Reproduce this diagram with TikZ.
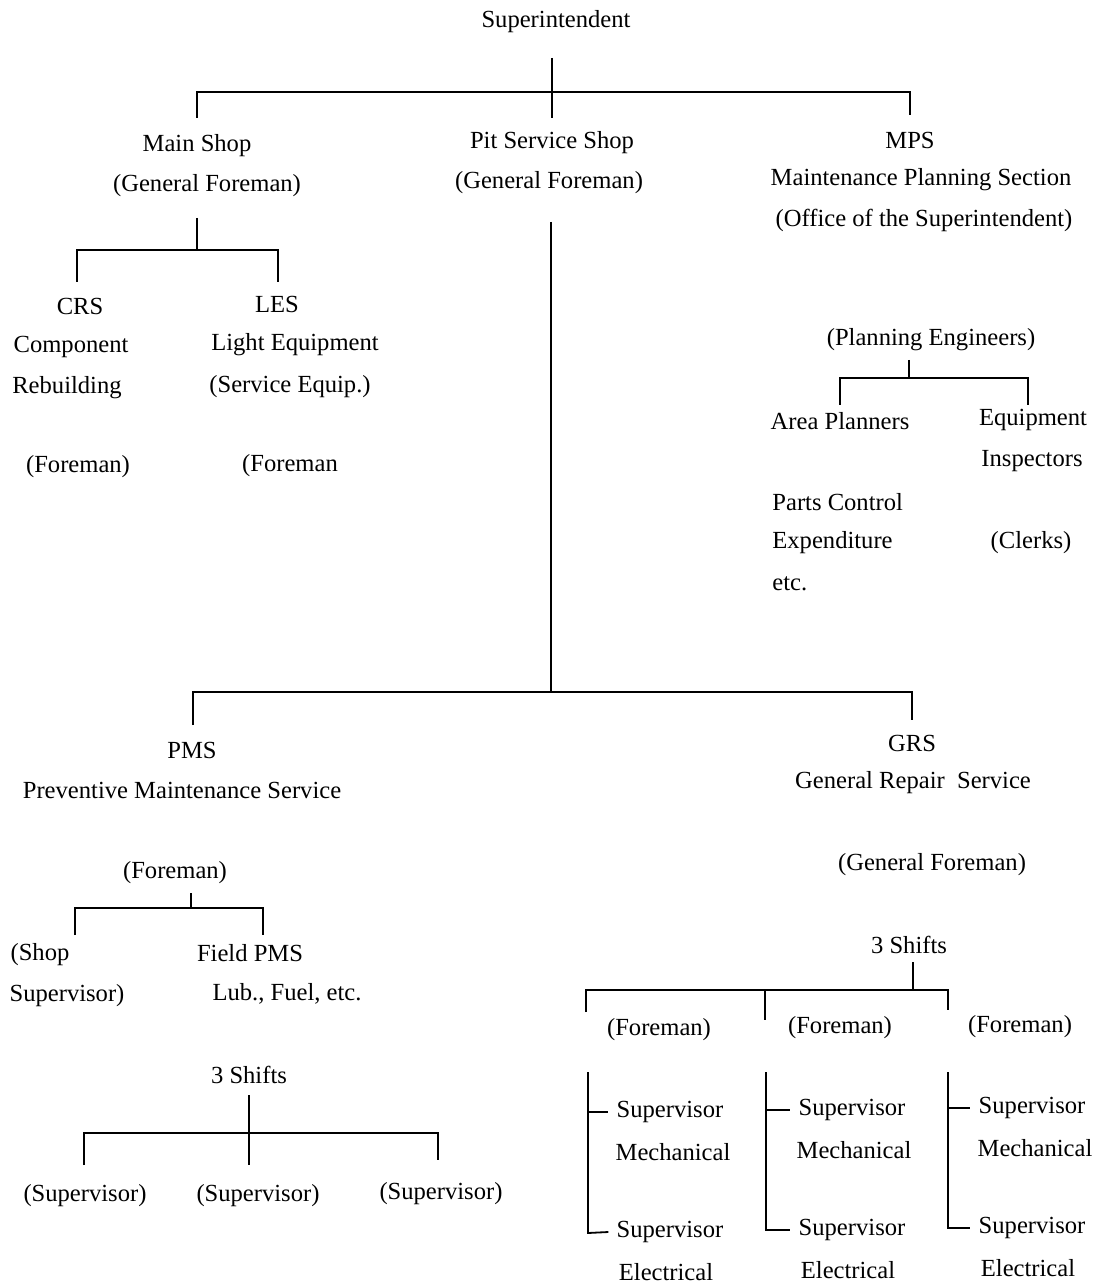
\documentclass[tikz,border=0pt]{standalone}
\usepackage{fontspec}
\setmainfont{Liberation Serif}
\begin{document}
\begin{tikzpicture}[x=0.5pt,y=-0.5pt,
  lbl/.style={inner sep=0pt,font=\fontsize{12.3}{14}\selectfont},
  conn/.style={line width=0.9pt}]
\useasboundingbox[fill=white] (0,0) rectangle (1097,1288);
% ---- texts ----
\node[lbl] (sup) at (556,22) {Superintendent};
\node[lbl] (ms1) at (197,146) {Main Shop};
\node[lbl] (ms2) at (207,186) {(General Foreman)};
\node[lbl] (ps1) at (552,143) {Pit Service Shop};
\node[lbl] (ps2) at (549,183) {(General Foreman)};
\node[lbl] (mps1) at (910,140) {MPS};
\node[lbl] (mps2) at (921,180) {Maintenance Planning Section};
\node[lbl] (mps3) at (924,220) {(Office of the Superintendent)};
\node[lbl] (crs1) at (80,306) {CRS};
\node[lbl] (crs2) at (71,347) {Component};
\node[lbl] (crs3) at (67,388) {Rebuilding};
\node[lbl] (crs4) at (78,467) {(Foreman)};
\node[lbl] (les1) at (277,304) {LES};
\node[lbl] (les2) at (295,345) {Light Equipment};
\node[lbl] (les3) at (290,387) {(Service Equip.)};
\node[lbl] (les4) at (290,466) {(Foreman};
\node[lbl] (pe) at (931,340) {(Planning Engineers)};
\node[lbl] (ap) at (840,421) {Area Planners};
\node[lbl] (ei1) at (1033,420) {Equipment};
\node[lbl] (ei2) at (1032,461) {Inspectors};
\node[lbl,anchor=west] (pc1) at (772,502) {Parts Control};
\node[lbl,anchor=west] (pc2) at (772,543) {Expenditure};
\node[lbl,anchor=west] (pc3) at (772,584) {etc.};
\node[lbl] (clk) at (1031,543) {(Clerks)};
\node[lbl] (pms1) at (192,750) {PMS};
\node[lbl] (pms2) at (182,790) {Preventive Maintenance Service};
\node[lbl] (grs1) at (912,743) {GRS};
\node[lbl] (grs2) at (913,783) {General Repair\ \ Service};
\node[lbl] (grs3) at (932,865) {(General Foreman)};
\node[lbl] (pf) at (175,873) {(Foreman)};
\node[lbl] (shop1) at (40,955) {(Shop};
\node[lbl] (shop2) at (67,996) {Supervisor)};
\node[lbl] (fp1) at (250,953) {Field PMS};
\node[lbl] (fp2) at (287,994) {Lub., Fuel, etc.};
\node[lbl] (shA) at (249,1075) {3 Shifts};
\node[lbl] (svA) at (85,1196) {(Supervisor)};
\node[lbl] (svB) at (258,1196) {(Supervisor)};
\node[lbl] (svC) at (441,1194) {(Supervisor)};
\node[lbl] (shB) at (909,945) {3 Shifts};
\node[lbl] (gfA) at (659,1030) {(Foreman)};
\node[lbl] (gfB) at (840,1028) {(Foreman)};
\node[lbl] (gfC) at (1020,1027) {(Foreman)};
\node[lbl] (mA1) at (670,1112) {Supervisor};
\node[lbl] (mA2) at (673,1152) {Mechanical};
\node[lbl] (eA1) at (670,1232) {Supervisor};
\node[lbl] (eA2) at (666,1272) {Electrical};
\node[lbl] (mB1) at (852,1110) {Supervisor};
\node[lbl] (mB2) at (854,1150) {Mechanical};
\node[lbl] (eB1) at (852,1230) {Supervisor};
\node[lbl] (eB2) at (848,1270) {Electrical};
\node[lbl] (mC1) at (1032,1108) {Supervisor};
\node[lbl] (mC2) at (1035,1148) {Mechanical};
\node[lbl] (eC1) at (1032,1228) {Supervisor};
\node[lbl] (eC2) at (1028,1268) {Electrical};
% ---- connector points ----
\coordinate (t0) at (552,58);   \coordinate (t1) at (552,118);
\coordinate (tL) at (197,118);  \coordinate (tR) at (910,115);
\coordinate (tLb) at (197,92);  \coordinate (tRb) at (910,92);
\coordinate (m0) at (551,222);  \coordinate (m1) at (551,692);
\coordinate (mL) at (193,725);  \coordinate (mR) at (912,720);
\coordinate (mLb) at (193,692); \coordinate (mRb) at (912,692);
\coordinate (a0) at (197,218);  \coordinate (a1) at (197,250);
\coordinate (aL) at (77,282);   \coordinate (aR) at (278,282);
\coordinate (aLb) at (77,250);  \coordinate (aRb) at (278,250);
\coordinate (b0) at (909,360);  \coordinate (b1) at (909,378);
\coordinate (bL) at (840,405);  \coordinate (bR) at (1028,405);
\coordinate (bLb) at (840,378); \coordinate (bRb) at (1028,378);
\coordinate (c0) at (191,893);  \coordinate (c1) at (191,908);
\coordinate (cL) at (75,935);   \coordinate (cR) at (263,935);
\coordinate (cLb) at (75,908);  \coordinate (cRb) at (263,908);
\coordinate (d0) at (249,1095); \coordinate (d1) at (249,1165);
\coordinate (dL) at (84,1165);  \coordinate (dR) at (438,1160);
\coordinate (dLb) at (84,1133); \coordinate (dRb) at (438,1133);
\coordinate (e0) at (913,962);  \coordinate (e1) at (913,990);
\coordinate (eL) at (586,1012); \coordinate (eM) at (765,1020); \coordinate (eR) at (948,1010);
\coordinate (eLb) at (586,990); \coordinate (eMb) at (765,990); \coordinate (eRb) at (948,990);
% ---- connectors ----
\draw[conn] (t0) -- (t1);
\draw[conn] (tL) -- (tLb) -- (tRb) -- (tR);
\draw[conn] (m0) -- (m1);
\draw[conn] (mL) -- (mLb) -- (mRb) -- (mR);
\draw[conn] (a0) -- (a1);
\draw[conn] (aL) -- (aLb) -- (aRb) -- (aR);
\draw[conn] (b0) -- (b1);
\draw[conn] (bL) -- (bLb) -- (bRb) -- (bR);
\draw[conn] (c0) -- (c1);
\draw[conn] (cL) -- (cLb) -- (cRb) -- (cR);
\draw[conn] (d0) -- (d1);
\draw[conn] (dL) -- (dLb) -- (dRb) -- (dR);
\draw[conn] (e0) -- (e1);
\draw[conn] (eL) -- (eLb) -- (eRb) -- (eR);
\draw[conn] (eMb) -- (eM);
% brackets
\foreach \bx/\mm/\ee/\ty/\by in {588/mA1/eA1/1112/1233, 766/mB1/eB1/1110/1230, 948/mC1/eC1/1108/1228}{
  \draw[conn] (\bx,1072) -- (\bx,\by) -- ([xshift=-4pt]\ee.west);
  \draw[conn] (\bx,\ty) -- ([xshift=-4pt]\mm.west);
}
\end{tikzpicture}
\end{document}
